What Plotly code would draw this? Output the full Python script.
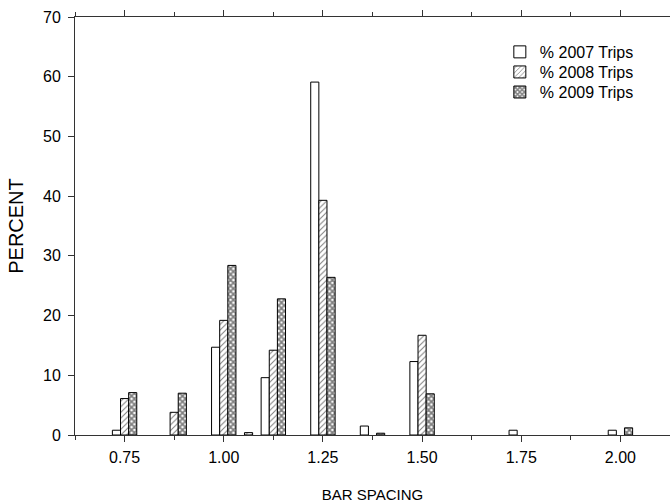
import plotly.graph_objects as go

# Data
bar_spacing = [0.75, 0.875, 1.0, 1.0625, 1.125, 1.25, 1.375, 1.5, 1.75, 2.0]
pct_2007 = [0.8, 0.0, 14.7, 0.0, 9.6, 59.1, 1.5, 12.3, 0.8, 0.8]
pct_2008 = [6.1, 3.8, 19.2, 0.4, 14.2, 39.3, 0.0, 16.7, 0.0, 0.0]
pct_2009 = [7.1, 7.0, 28.4, 0.0, 22.8, 26.4, 0.3, 6.9, 0.0, 1.2]
series_names = ["% 2007 Trips", "% 2008 Trips", "% 2009 Trips"]
x_ticks = [0.75, 1.0, 1.25, 1.5, 1.75, 2.0]
x_ticktext = ["0.75", "1.00", "1.25", "1.50", "1.75", "2.00"]
y_ticks = [0, 10, 20, 30, 40, 50, 60, 70]

W = 0.0205
FONT = "Liberation Sans, Arial, sans-serif"

def clean(vals):
    return [v if v > 0 else None for v in vals]

fig = go.Figure()
patterns = [
    dict(shape="", bgcolor="white"),
    dict(shape="/", fgcolor="black", bgcolor="white", size=4, solidity=0.25),
    dict(shape="x", fgcolor="black", bgcolor="white", size=4, solidity=0.7),
]
offsets = [-1.5 * W, -0.5 * W, 0.5 * W]
legend_ids = ["legend", "legend2", "legend3"]
for name, vals, pat, off, lg in zip(series_names, [pct_2007, pct_2008, pct_2009],
                                    patterns, offsets, legend_ids):
    fig.add_trace(go.Bar(
        x=bar_spacing, y=clean(vals), name=name,
        width=W, offset=off, legend=lg,
        marker=dict(color="white", pattern=pat, line=dict(color="black", width=1)),
    ))

leg_common = dict(x=0.714, xanchor="left", yanchor="top",
                  bgcolor="rgba(0,0,0,0)", font=dict(size=16))
fig.update_layout(
    width=670, height=504,
    margin=dict(l=75, r=0, t=17, b=69),
    paper_bgcolor="white", plot_bgcolor="white",
    barmode="overlay",
    font=dict(family=FONT, size=16, color="black"),
    showlegend=True,
    legend=dict(y=0.957, **leg_common),
    legend2=dict(y=0.909, **leg_common),
    legend3=dict(y=0.861, **leg_common),
)
fig.update_xaxes(
    range=[0.625, 2.125], tickvals=x_ticks, ticktext=x_ticktext,
    showgrid=False, zeroline=False,
    showline=True, linecolor="#333", linewidth=1, mirror="ticks",
    ticks="outside", ticklen=6, tickcolor="#333",
    minor=dict(dtick=0.125, tick0=0.625, ticks="outside", ticklen=4, tickcolor="#333", showgrid=False),
    ticklabelstandoff=2,
    title=dict(text="BAR SPACING", font=dict(size=15), standoff=24),
)
fig.update_yaxes(
    range=[0, 70], tickvals=y_ticks,
    showgrid=False, zeroline=False,
    showline=True, linecolor="#333", linewidth=1, mirror=False,
    ticks="outside", ticklen=6, tickcolor="#333",
    ticklabelstandoff=4,
    title=dict(text="PERCENT", font=dict(size=20), standoff=14),
)

fig.write_html("out.html")
